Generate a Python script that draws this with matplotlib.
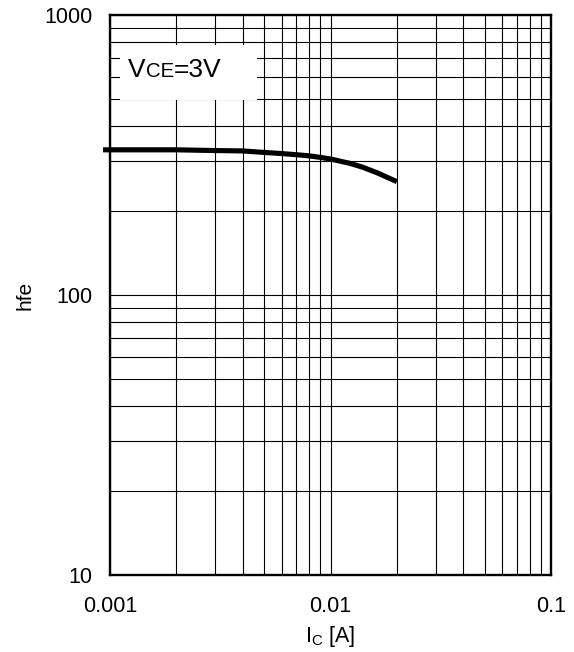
import matplotlib
matplotlib.use("Agg")
import matplotlib.pyplot as plt
from matplotlib.patches import Rectangle
from matplotlib.ticker import FixedLocator, NullFormatter, FixedFormatter

plt.rcParams['font.family'] = ['Liberation Sans', 'DejaVu Sans']

ic = [0.00093, 0.001, 0.002, 0.003, 0.004, 0.005, 0.006, 0.007, 0.008,
      0.009, 0.01, 0.0123, 0.014, 0.0163, 0.02]
hfe = [330, 330, 330, 328, 327, 323, 320, 317, 314, 310, 306, 295, 286,
       273, 254]

x_ticks = [0.001, 0.01, 0.1]
x_labels = ["0.001", "0.01", "0.1"]
y_ticks = [10, 100, 1000]
y_labels = ["10", "100", "1000"]

W, H = 574, 652
fig = plt.figure(figsize=(W / 100, H / 100), dpi=100)
ax = fig.add_axes([110 / W, 1 - 575 / H, (551 - 110) / W, (575 - 15) / H])
ax.set_xscale('log')
ax.set_yscale('log')
ax.set_xlim(0.001, 0.1)
ax.set_ylim(10, 1000)

ax.xaxis.set_major_locator(FixedLocator(x_ticks))
ax.xaxis.set_major_formatter(FixedFormatter(x_labels))
ax.yaxis.set_major_locator(FixedLocator(y_ticks))
ax.yaxis.set_major_formatter(FixedFormatter(y_labels))
xminor = [m * 10.0 ** e for e in (-3, -2) for m in range(2, 10)]
yminor = [m * 10.0 ** e for e in (1, 2) for m in range(2, 10)]
ax.xaxis.set_minor_locator(FixedLocator(xminor))
ax.yaxis.set_minor_locator(FixedLocator(yminor))
ax.xaxis.set_minor_formatter(NullFormatter())
ax.yaxis.set_minor_formatter(NullFormatter())
ax.tick_params(which='both', length=0, labelsize=15.5, colors='black')
ax.tick_params(axis='x', pad=15)
ax.tick_params(axis='y', pad=12.5)
ax.grid(True, which='both', color='black', linewidth=0.8)
for s in ax.spines.values():
    s.set_linewidth(1.7)
    s.set_color('black')

ax.plot(ic, hfe, color='black', linewidth=3.7, clip_on=False, zorder=5,
        solid_capstyle='butt')

ax.set_xlabel(r'$\mathregular{I_C}$ [A]', fontsize=15.5, labelpad=5)
ax.set_ylabel('hfe', fontsize=15, labelpad=7)

# white label box
fig.patches.append(Rectangle((120 / W, 1 - 100 / H), 137 / W, 55 / H,
                             transform=fig.transFigure, facecolor='white',
                             edgecolor='none', zorder=10))
renderer = fig.canvas.get_renderer()
x0 = 128 / W
yb = 1 - 77 / H
parts = [("V", 19), ("CE", 14.7), ("=3V", 19)]
for txt, fs in parts:
    t = fig.text(x0, yb, txt, fontsize=fs, va='baseline', ha='left', zorder=11)
    bb = t.get_window_extent(renderer)
    x0 += bb.width / W

fig.savefig('out.png', dpi=100)
